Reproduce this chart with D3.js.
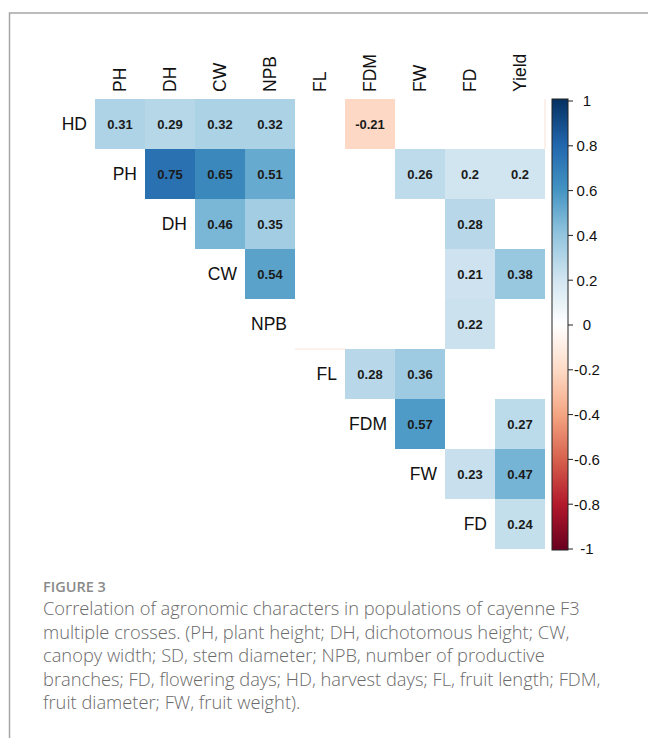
<!DOCTYPE html>
<html>
<head>
<meta charset="utf-8">
<script src="https://cdn.jsdelivr.net/npm/d3@7"></script>
<style>
  html, body { margin: 0; padding: 0; background: #fff; }
  svg { display: block; }
</style>
</head>
<body>
<svg id="chart" width="648" height="738"></svg>
<script>
// ---- data ----
const rowLabels = ["HD", "PH", "DH", "CW", "NPB", "FL", "FDM", "FW", "FD"];
const colLabels = ["PH", "DH", "CW", "NPB", "FL", "FDM", "FW", "FD", "Yield"];
// significant correlations only (null = blank); rows follow rowLabels, columns follow colLabels
const corrValues = [
  [0.31, 0.29, 0.32, 0.32, null, -0.21, null, null, null],
  [null, 0.75, 0.65, 0.51, null, null, 0.26, 0.2, 0.2],
  [null, null, 0.46, 0.35, null, null, null, 0.28, null],
  [null, null, null, 0.54, null, null, null, 0.21, 0.38],
  [null, null, null, null, null, null, null, 0.22, null],
  [null, null, null, null, null, 0.28, 0.36, null, null],
  [null, null, null, null, null, null, 0.57, null, 0.27],
  [null, null, null, null, null, null, null, 0.23, 0.47],
  [null, null, null, null, null, null, null, null, 0.24]
];
const legendTicks = [1, 0.8, 0.6, 0.4, 0.2, 0, -0.2, -0.4, -0.6, -0.8, -1];
const paletteColors = ["#67001F", "#B2182B", "#D6604D", "#F4A582", "#FDDBC7", "#FFFFFF",
                       "#D1E5F0", "#92C5DE", "#4393C3", "#2166AC", "#053061"];
const captionTitle = "FIGURE 3";
const captionLines = [
  "Correlation of agronomic characters in populations of cayenne F3",
  "multiple crosses. (PH, plant height; DH, dichotomous height; CW,",
  "canopy width; SD, stem diameter; NPB, number of productive",
  "branches; FD, flowering days; HD, harvest days; FL, fruit length; FDM,",
  "fruit diameter; FW, fruit weight)."
];

// ---- layout ----
const svg = d3.select("#chart");
const gridLeft = 95, gridTop = 99, cell = 50;
const fontChart = "'Liberation Sans', Arial, sans-serif";

const x = d3.scaleBand().domain(colLabels).range([gridLeft, gridLeft + cell * colLabels.length]);
const y = d3.scaleBand().domain(rowLabels).range([gridTop, gridTop + cell * rowLabels.length]);
const color = d3.scaleLinear()
  .domain(d3.range(paletteColors.length).map(i => -1 + 2 * i / (paletteColors.length - 1)))
  .range(paletteColors)
  .interpolate(d3.interpolateRgb);

// frame
svg.append("path")
  .attr("d", "M9.5,738 L9.5,13 L648,13")
  .attr("fill", "none").attr("stroke", "#a6a6a6").attr("stroke-width", 1.5);

// cells
const cells = [];
corrValues.forEach((row, i) => row.forEach((v, j) => {
  if (v !== null) cells.push({ r: rowLabels[i], c: colLabels[j], v });
}));

const gCells = svg.append("g");
gCells.selectAll("rect").data(cells).join("rect")
  .attr("x", d => x(d.c)).attr("y", d => y(d.r))
  .attr("width", x.bandwidth()).attr("height", y.bandwidth())
  .attr("fill", d => color(d.v));

gCells.selectAll("text").data(cells).join("text")
  .attr("x", d => x(d.c) + x.bandwidth() / 2)
  .attr("y", d => y(d.r) + y.bandwidth() / 2)
  .attr("dy", "0.36em")
  .attr("text-anchor", "middle")
  .attr("font-family", fontChart).attr("font-weight", "bold").attr("font-size", 13)
  .attr("fill", "#1a1a1a")
  .text(d => String(d.v));

// faint artefact lines seen in the original
svg.append("line").attr("x1", x("Yield") + cell).attr("x2", x("Yield") + cell)
  .attr("y1", y("HD")).attr("y2", y("HD") + cell)
  .attr("stroke", "#fbe2d8").attr("stroke-width", 1);
svg.append("line").attr("x1", x("FL")).attr("x2", x("FL") + cell)
  .attr("y1", y("FL")).attr("y2", y("FL"))
  .attr("stroke", "#fbe2d8").attr("stroke-width", 1);

// row labels (on the diagonal)
svg.append("g").selectAll("text").data(rowLabels).join("text")
  .attr("x", (d, i) => gridLeft + i * cell - 8)
  .attr("y", d => y(d) + y.bandwidth() / 2)
  .attr("dy", "0.36em")
  .attr("text-anchor", "end")
  .attr("font-family", fontChart).attr("font-size", 17.5)
  .attr("fill", "#111")
  .text(d => d);

// column labels (rotated)
svg.append("g").selectAll("text").data(colLabels).join("text")
  .attr("transform", d => `translate(${x(d) + x.bandwidth() / 2},92) rotate(-90)`)
  .attr("dy", "0.36em")
  .attr("text-anchor", "start")
  .attr("font-family", fontChart).attr("font-size", 17.5)
  .attr("fill", "#111")
  .text(d => d);

// colour legend
const legX = 552, legW = 16, legTop = 99, legBottom = 550;
const defs = svg.append("defs");
const grad = defs.append("linearGradient").attr("id", "legGrad")
  .attr("x1", "0").attr("y1", "1").attr("x2", "0").attr("y2", "0");
paletteColors.forEach((c, i) => {
  grad.append("stop").attr("offset", i / (paletteColors.length - 1)).attr("stop-color", c);
});
svg.append("rect").attr("x", legX).attr("y", legTop)
  .attr("width", legW).attr("height", legBottom - legTop)
  .attr("fill", "url(#legGrad)").attr("stroke", "#222").attr("stroke-width", 1);

const legScale = d3.scaleLinear().domain([-1, 1]).range([legBottom - 1, legTop + 2]);
const legG = svg.append("g");
legG.selectAll("line").data(legendTicks).join("line")
  .attr("x1", legX + legW).attr("x2", legX + legW + 5)
  .attr("y1", d => legScale(d)).attr("y2", d => legScale(d))
  .attr("stroke", "#222").attr("stroke-width", 1);
legG.selectAll("text").data(legendTicks).join("text")
  .attr("x", 587).attr("y", d => legScale(d))
  .attr("dy", "0.36em")
  .attr("text-anchor", "middle")
  .attr("font-family", fontChart).attr("font-size", 15)
  .attr("fill", "#111")
  .text(d => String(d));

// caption
const capFont = "'Open Sans', 'Noto Sans', sans-serif";
svg.append("text").attr("x", 43).attr("y", 592)
  .attr("font-family", capFont).attr("font-weight", 600).attr("font-size", 14.5)
  .attr("fill", "#8a8a8a")
  .text(captionTitle);
svg.append("g").selectAll("text").data(captionLines).join("text")
  .attr("x", 43).attr("y", (d, i) => 615 + i * 23.5)
  .attr("font-family", capFont).attr("font-weight", 300).attr("font-size", 18.3)
  .attr("fill", "#6a6a6a")
  .text(d => d);
</script>
</body>
</html>
